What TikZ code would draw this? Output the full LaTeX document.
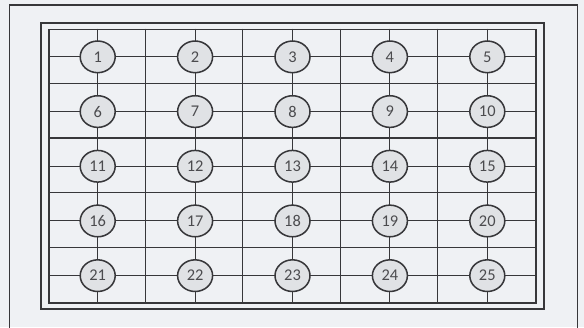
\documentclass[tikz,border=0pt]{standalone}
\usepackage{fontspec}
\setmainfont{Carlito}
\usetikzlibrary{backgrounds, shapes.geometric}

\begin{document}
\begin{tikzpicture}[x=0.03cm, y=-0.03cm]
  \definecolor{paper}{RGB}{239,241,244}
  \definecolor{ink}{RGB}{55,55,58}
  \definecolor{spotfill}{RGB}{224,226,229}

  \tikzset{
    frame/.style={draw=ink, line width=1.5pt},
    gridline/.style={draw=ink, line width=0.9pt},
    board/.style={
      rectangle, draw=ink, line width=1.5pt,
      minimum width=14.61cm, minimum height=8.205cm,
      inner sep=0pt
    },
    spot/.style={
      ellipse, draw=ink, line width=1.3pt, fill=spotfill,
      minimum width=1.05cm, minimum height=0.95cm, inner sep=0pt,
      font=\fontsize{14}{16}\selectfont, text=ink!90
    }
  }

  \useasboundingbox (0,0) rectangle (584,327);

  \node[board] (board) at (292.5,166.25) {};

  \foreach \r in {1,...,5}
    \foreach \c in {1,...,5} {
      \pgfmathtruncatemacro\n{(\r-1)*5+\c}
      \node[spot] (s\n) at ({49+(\c-0.5)*97.4},{29.5+(\r-0.5)*54.7}) {\n};
    }

  \draw[frame] ([xshift=-0.21cm, yshift=0.165cm]board.north west)
    rectangle ([xshift=0.21cm, yshift=-0.15cm]board.south east);
  \draw[frame] (9.5,330) -- (9.5,5) -- (577.5,5) -- (577.5,330);

  \begin{scope}[on background layer]
    \fill[paper] (0,0) rectangle (584,327);
    \foreach \k in {1,...,4} {
      \draw[gridline] ([xshift=\k*2.922cm]board.north west) -- ([xshift=\k*2.922cm]board.south west);
      \draw[gridline] ([yshift=-\k*1.641cm]board.north west) -- ([yshift=-\k*1.641cm]board.north east);
    }
    \foreach \n in {1,6,11,16,21}
      \draw[gridline] (board.west |- s\n) -- (board.east |- s\n);
    \foreach \n in {1,...,5}
      \draw[gridline] (board.north -| s\n) -- (board.south -| s\n);
  \end{scope}
\end{tikzpicture}
\end{document}
